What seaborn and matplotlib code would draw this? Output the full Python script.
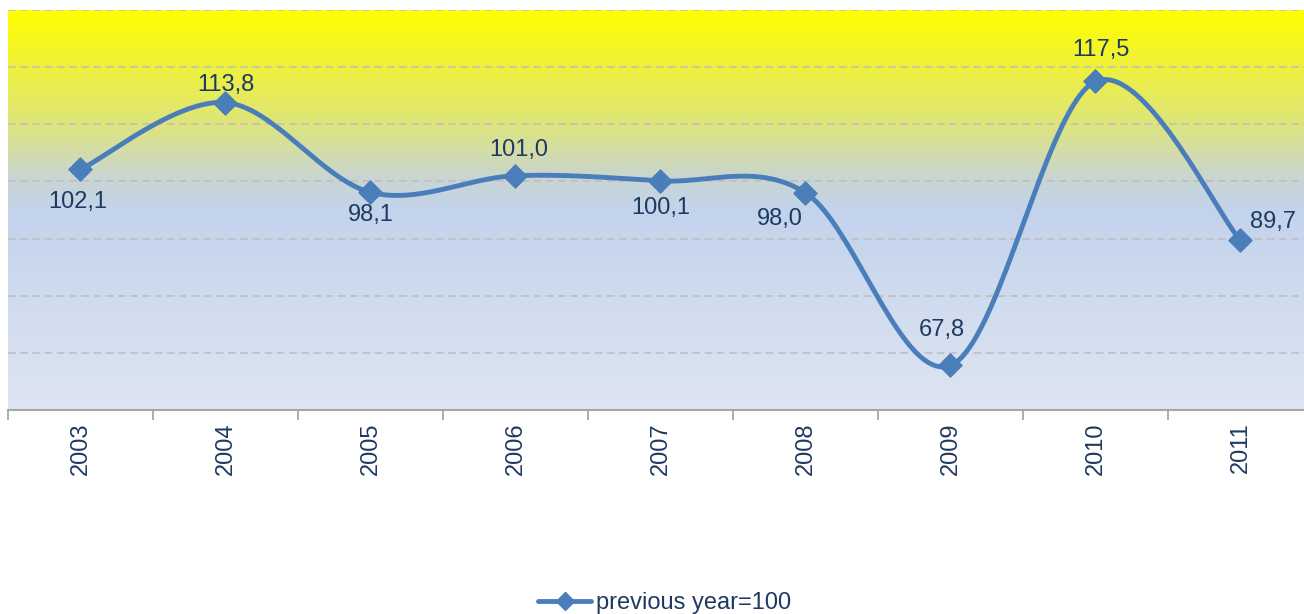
import numpy as np
import pandas as pd
import matplotlib
matplotlib.use("Agg")
import matplotlib.pyplot as plt
import seaborn as sns
from matplotlib.colors import LinearSegmentedColormap
from matplotlib.lines import Line2D

# ---- data ----
years = ["2003", "2004", "2005", "2006", "2007", "2008", "2009", "2010", "2011"]
values = [102.1, 113.8, 98.1, 101.0, 100.1, 98.0, 67.8, 117.5, 89.7]
series_name = "previous year=100"
value_labels = ["102,1", "113,8", "98,1", "101,0", "100,1", "98,0", "67,8", "117,5", "89,7"]

# label offsets in pixels (dx, dy) relative to the marker
label_offsets = [(-3, -33), (0, 18), (0, -23), (3, 26), (0, -27), (-26, -26), (-9, 35), (5, 31), (33, 18)]

sns.set_theme(style="white")
plt.rcParams["font.family"] = ["Liberation Sans", "DejaVu Sans"]

LINE_C = "#4A7EBB"
TEXT_C = "#1F3A60"
FS = 17

fig = plt.figure(figsize=(13.04, 6.14), dpi=100)
ax = fig.add_axes([8 / 1304, 1 - 410 / 614, 1305 / 1304, 400 / 614])

# gradient background
cmap = LinearSegmentedColormap.from_list(
    "bg",
    [(0.0, "#FFFF00"), (0.06, "#F8F818"), (0.28, "#DEE57A"), (0.42, "#C9D5D2"),
     (0.50, "#C3D3EC"), (1.0, "#DEE5F2")],
)
grad = np.linspace(0, 1, 400).reshape(-1, 1)
ax.imshow(grad, aspect="auto", cmap=cmap, extent=[0, 1, 0, 1], transform=ax.transAxes, zorder=0)

# smooth curve (Bezier through points, Catmull-Rom style control points)
x = np.arange(len(values), dtype=float)
y = np.array(values, dtype=float)
xs, ys = [], []
n = len(x)
t = np.linspace(0, 1, 40)
for i in range(n - 1):
    p0 = np.array([x[max(i - 1, 0)], y[max(i - 1, 0)]])
    p1 = np.array([x[i], y[i]])
    p2 = np.array([x[i + 1], y[i + 1]])
    p3 = np.array([x[min(i + 2, n - 1)], y[min(i + 2, n - 1)]])
    c1 = p1 + (p2 - p0) / 6
    c2 = p2 - (p3 - p1) / 6
    seg = ((1 - t)[:, None] ** 3 * p1 + 3 * ((1 - t) ** 2 * t)[:, None] * c1
           + 3 * ((1 - t) * t ** 2)[:, None] * c2 + (t ** 3)[:, None] * p2)
    xs.extend(seg[:, 0]); ys.extend(seg[:, 1])
smooth = pd.DataFrame({"x": xs, "y": ys})
pts = pd.DataFrame({"x": x, "y": y})

sns.lineplot(data=smooth, x="x", y="y", sort=False, color=LINE_C, linewidth=3.5, ax=ax, zorder=3)
sns.scatterplot(data=pts, x="x", y="y", marker="D", s=140, color=LINE_C, edgecolor=LINE_C, ax=ax, zorder=4)

ax.set_xlim(-0.5, len(values) - 0.5)
ax.set_ylim(60, 130)

# gridlines
for gv in range(70, 131, 10):
    ax.axhline(gv, color="#BDBDBD", linestyle=(0, (5, 3)), linewidth=1.1, zorder=1)

for s in ["top", "right", "left"]:
    ax.spines[s].set_visible(False)
ax.spines["bottom"].set_color("#A6A6A6")
ax.spines["bottom"].set_linewidth(1.5)

ax.set_yticks([])
ax.set_xticks(np.arange(-0.5, len(values), 1.0))
ax.set_xticklabels([])
ax.tick_params(axis="x", which="major", direction="out", length=7, width=1.3, color="#A6A6A6", bottom=True)
ax.set_xticks(x, minor=True)
ax.set_xticklabels(years, minor=True, rotation=90, fontsize=FS, color=TEXT_C)
ax.tick_params(axis="x", which="minor", length=0, pad=9)
ax.set_xlabel(""); ax.set_ylabel("")

for xi, yi, lab, (dx, dy) in zip(x, y, value_labels, label_offsets):
    ax.annotate(lab, (xi, yi), xytext=(dx, dy), textcoords="offset pixels",
                ha="center", va="center", fontsize=FS, color=TEXT_C, zorder=5)

handle = Line2D([], [], color=LINE_C, linewidth=3.5, marker="D", markersize=9)
fig.legend([handle], [series_name], loc="center", bbox_to_anchor=(0.5096, 1 - 603 / 614),
           frameon=False, fontsize=FS, labelcolor=TEXT_C, handlelength=2.25, handletextpad=0.2)

fig.savefig("out.png", dpi=100)
